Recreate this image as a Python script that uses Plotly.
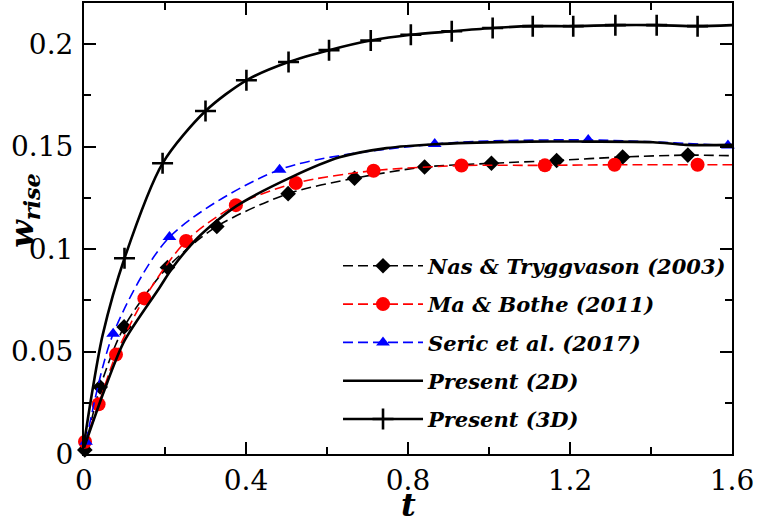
import plotly.graph_objects as go

# ---- data ----
t_nas = [0.002, 0.04, 0.099, 0.206, 0.328, 0.504, 0.668, 0.841, 1.006, 1.167, 1.330, 1.491, 1.6]
w_nas = [0.002, 0.0327, 0.062, 0.091, 0.111, 0.127, 0.1345, 0.140, 0.1418, 0.1432, 0.1449, 0.1458, 0.1455]

t_ma = [0.0025, 0.036, 0.079, 0.149, 0.252, 0.375, 0.523, 0.715, 0.932, 1.138, 1.31, 1.515, 1.6]
w_ma = [0.006, 0.0243, 0.0485, 0.0759, 0.1039, 0.1214, 0.1322, 0.1382, 0.1407, 0.1408, 0.1411, 0.1411, 0.1411]

t_seric = [0.005, 0.072, 0.211, 0.483, 0.866, 1.245, 1.59]
w_seric = [0.006, 0.0586, 0.1058, 0.1387, 0.1512, 0.1532, 0.1505]

t_2d = [0.0, 0.05, 0.1, 0.186, 0.219, 0.281, 0.376, 0.516, 0.631, 0.747, 0.866, 1.1, 1.24, 1.405, 1.487, 1.6]
w_2d = [0.003, 0.031, 0.0553, 0.081, 0.091, 0.1055, 0.1209, 0.1354, 0.1447, 0.1492, 0.1511, 0.1524, 0.1524, 0.1521, 0.1508, 0.1508]

t_3d = [0.0, 0.02, 0.046, 0.1, 0.194, 0.30, 0.401, 0.505, 0.605, 0.708, 0.807, 0.908, 1.009, 1.108, 1.208, 1.312, 1.414, 1.515, 1.6]
w_3d = [0.005, 0.03, 0.058, 0.0955, 0.1418, 0.1673, 0.1823, 0.1912, 0.197, 0.2017, 0.2045, 0.2062, 0.2078, 0.2087, 0.2087, 0.2092, 0.2092, 0.2087, 0.2092]

labels = ["Nas & Tryggvason (2003)", "Ma & Bothe (2011)", "Seric et al. (2017)", "Present (2D)", "Present (3D)"]

x_ticks = [0, 0.4, 0.8, 1.2, 1.6]
y_ticks = [0, 0.05, 0.1, 0.15, 0.2]

# ---- styles ----
SERIF = "DejaVu Serif"
DASH = "10px,5px"
fig = go.Figure()

def add_series(tl, wl, tm, wm, name, color, dash, lw, symbol, msize, mline=None):
    fig.add_trace(go.Scatter(x=tl, y=wl, mode="lines", showlegend=False,
                             line=dict(color=color, width=lw, dash=dash, shape="spline", smoothing=0.8),
                             hoverinfo="skip"))
    if tm is not None:
        mk = dict(symbol=symbol, size=msize, color=color)
        if mline:
            mk["line"] = dict(color=color, width=mline)
        fig.add_trace(go.Scatter(x=tm, y=wm, mode="markers", showlegend=False, marker=mk,
                                 cliponaxis=False))
    leg = dict(x=[None], y=[None], name=name, showlegend=True, legendgroup=name,
               line=dict(color=color, width=lw, dash=dash))
    if tm is not None:
        mk = dict(symbol=symbol, size=msize, color=color)
        if mline:
            mk["line"] = dict(color=color, width=mline)
        fig.add_trace(go.Scatter(mode="lines+markers", marker=mk, **leg))
    else:
        fig.add_trace(go.Scatter(mode="lines", **leg))

add_series(t_nas, w_nas, t_nas[:-1], w_nas[:-1], labels[0], "black", DASH, 1.6, "diamond", 12)
add_series(t_ma, w_ma, t_ma[:-1], w_ma[:-1], labels[1], "#ff0000", DASH, 1.6, "circle", 14)
add_series(t_seric, w_seric, t_seric, w_seric, labels[2], "#0000ff", DASH, 1.6, "triangle-up", 12)
add_series(t_2d, w_2d, None, None, labels[3], "black", "solid", 2.6, None, None)
add_series(t_3d, w_3d, t_3d[3:-1], w_3d[3:-1], labels[4], "black", "solid", 2.6, "cross-thin", 15, mline=2.6)

axis_common = dict(showgrid=False, zeroline=False, showline=True, linecolor="black", linewidth=2,
                   mirror="ticks", ticks="inside", ticklen=12, tickwidth=1.5, tickcolor="black",
                   tickfont=dict(family=SERIF, size=28, color="black"))

fig.update_xaxes(range=[0, 1.6], tickvals=x_ticks, ticktext=[f"{v:g}" for v in x_ticks],
                 minor=dict(ticks="inside", ticklen=7, tickwidth=1.5, tickcolor="black", dtick=0.2, showgrid=False),
                 ticklabelstandoff=0,
                 **axis_common)
fig.update_yaxes(range=[0, 0.22], tickvals=y_ticks, ticktext=[f"{v:g}" for v in y_ticks],
                 minor=dict(ticks="inside", ticklen=7, tickwidth=1.5, tickcolor="black", dtick=0.025, showgrid=False),
                 ticklabelstandoff=3,
                 **axis_common)

fig.add_annotation(text="<b><i>t</i></b>", xref="paper", yref="paper", x=0.5, y=-0.159,
                   xanchor="center", yanchor="bottom", showarrow=False,
                   font=dict(family=SERIF, size=32, color="black"))
fig.add_annotation(text="<b><i>w<sub>rise</sub></i></b>", xref="paper", yref="paper", x=-0.092, y=0.54,
                   xanchor="center", yanchor="middle", showarrow=False, textangle=-90,
                   font=dict(family=SERIF, size=32, color="black"))

fig.update_layout(
    width=758, height=525,
    margin=dict(l=84, r=26, t=1, b=71),
    plot_bgcolor="white", paper_bgcolor="white",
    legend=dict(x=0.392, y=0.462, xanchor="left", yanchor="top", bgcolor="rgba(0,0,0,0)",
                traceorder="grouped", tracegroupgap=8,
                itemwidth=80, font=dict(family=SERIF, size=21, color="black", weight="bold", style="italic")),
)

fig.write_html("out.html")
